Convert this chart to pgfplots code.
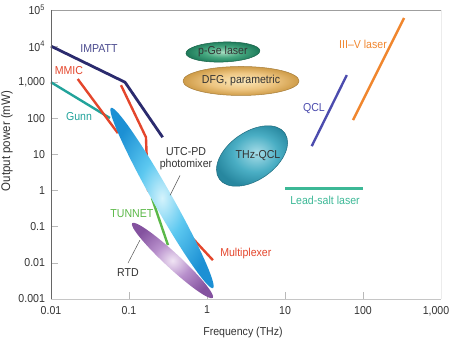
\documentclass[border=0pt]{standalone}
\usepackage{pgfplots}
\pgfplotsset{compat=1.18}
\usepackage{fontspec}
\setmainfont{Liberation Sans}[FakeStretch=0.92]
\usetikzlibrary{shapes.geometric}

% line and label colours
\definecolor{impatt}{HTML}{2B2B6E}
\definecolor{impattTxt}{HTML}{4A4A8E}
\definecolor{mmic}{HTML}{E4462C}
\definecolor{gunn}{HTML}{22A39B}
\definecolor{tunnet}{HTML}{5BB848}
\definecolor{qcl}{HTML}{4C4CAE}
\definecolor{threefive}{HTML}{F0862E}
\definecolor{leadsalt}{HTML}{3CB896}
\definecolor{leader}{HTML}{555555}
\definecolor{txt}{HTML}{333333}

% region fills
\definecolor{utcA}{HTML}{D4F3FC}
\definecolor{utcB}{HTML}{5CC8F0}
\definecolor{utcC}{HTML}{1C90D4}
\definecolor{rtdA}{HTML}{F0E4F4}
\definecolor{rtdB}{HTML}{B890CC}
\definecolor{rtdC}{HTML}{84529F}
\definecolor{qclA}{HTML}{A8DDE8}
\definecolor{qclB}{HTML}{4AAEC4}
\definecolor{qclC}{HTML}{27879F}
\definecolor{pgeA}{HTML}{A6DCC0}
\definecolor{pgeB}{HTML}{44A67E}
\definecolor{pgeC}{HTML}{1E7A5A}
\definecolor{dfgA}{HTML}{FBE8BA}
\definecolor{dfgB}{HTML}{EEC682}
\definecolor{dfgC}{HTML}{CF9C48}

\pgfdeclareradialshading{utcpd}{\pgfpoint{0bp}{0bp}}{color(0bp)=(utcA); color(11bp)=(utcB); color(25bp)=(utcC); color(50bp)=(utcC)}
\pgfdeclareradialshading{rtd}{\pgfpoint{0bp}{0bp}}{color(0bp)=(rtdA); color(11bp)=(rtdB); color(25bp)=(rtdC); color(50bp)=(rtdC)}
\pgfdeclareradialshading{thzqcl}{\pgfpoint{3bp}{2bp}}{color(0bp)=(qclA); color(14bp)=(qclB); color(25bp)=(qclC); color(50bp)=(qclC)}
\pgfdeclareradialshading{pge}{\pgfpoint{0bp}{0bp}}{color(0bp)=(pgeA); color(13bp)=(pgeB); color(25bp)=(pgeC); color(50bp)=(pgeC)}
\pgfdeclareradialshading{dfg}{\pgfpoint{0bp}{0bp}}{color(0bp)=(dfgA); color(14bp)=(dfgB); color(25bp)=(dfgC); color(50bp)=(dfgC)}

\tikzset{
  region/.style={ellipse, inner sep=0pt, shade},
}

\begin{document}
\fontsize{11.5}{13.5}\selectfont%
\begin{tikzpicture}
\begin{axis}[
  scale only axis,
  width=390pt, height=289pt,
  xmode=log, ymode=log,
  xmin=0.01, xmax=1000,
  ymin=0.001, ymax=100000,
  xtick={0.01,0.1,1,10,100,1000},
  xticklabels={0.01,0.1,1,10,100,{\hspace*{-10pt}1,000}},
  ytick={0.001,0.01,0.1,1,10,100,1000,10000,100000},
  yticklabels={0.001,0.01,0.1,1,10,100,{1,000},10\textsuperscript{4},10\textsuperscript{5}},
  xminorticks=false, yminorticks=false,
  xtick pos=bottom, ytick pos=left,
  tick align=inside,
  major tick length=7pt,
  tick style={gray!55, line width=0.6pt},
  axis line style={draw=none},
  x tick label style={yshift=-3pt, text=txt},
  y tick label style={xshift=-2pt, text=txt},
  clip=false,
]
\coordinate (O) at (rel axis cs:0,0);
\coordinate (T) at (rel axis cs:1,1);

% electronic sources
\addplot[gunn, line width=2.4pt] coordinates {(0.01,1000) (0.057,102)};
\addplot[mmic, line width=2.4pt] coordinates {(0.022,1230) (0.072,39)};
\addplot[mmic, line width=2.4pt, line join=round] coordinates {(0.079,830) (0.165,30) (0.175,1.03) (1.19,0.0119)};
\addplot[impatt, line width=2.8pt, line join=round] coordinates {(0.01,10000) (0.089,1000) (0.27,30)};
\addplot[tunnet, line width=2.4pt] coordinates {(0.197,0.62) (0.316,0.031)};

% photonic sources
\addplot[qcl, line width=2.4pt] coordinates {(22,17) (62,1580)};
\addplot[threefive, line width=2.4pt] coordinates {(74.5,90) (336,60000)};
\addplot[leadsalt, line width=3pt] coordinates {(10,1.17) (100,1.17)};

% source regions
\node[region, shading=rtd, minimum width=110pt, minimum height=15pt, rotate=-42.8] at (axis cs:0.361,0.01164) {};
\node[region, shading=utcpd, minimum width=207pt, minimum height=19pt, rotate=-60.5] at (axis cs:0.265,0.625) {};
\node[region, shading=thzqcl, draw=qclC!80!black, line width=0.5pt, minimum width=80pt, minimum height=48pt, rotate=35] at (axis cs:3.78,9.08) {};
\node[region, shading=pge, draw=pgeC!80!black, line width=0.5pt, minimum width=74pt, minimum height=20pt, rotate=2] at (axis cs:1.6,6870) {};
\node[region, shading=dfg, draw=dfgC!80!black, line width=0.5pt, minimum width=116pt, minimum height=29pt] at (axis cs:2.73,1084) {};

% leader lines
\draw[leader, line width=0.5pt] (axis cs:0.451,2.64) -- (axis cs:0.336,0.74);
\draw[leader, line width=0.5pt] (axis cs:0.097,0.00984) -- (axis cs:0.138,0.0425);

% labels
\node[text=impattTxt] at (axis cs:0.0412,8400) {IMPATT};
\node[text=mmic] at (axis cs:0.017,2080) {MMIC};
\node[text=gunn] at (axis cs:0.0229,112) {Gunn};
\node[text=txt, align=center, inner sep=0pt] at (axis cs:0.538,7.76) {UTC-PD\\[-1pt]photomixer};
\node[text=tunnet] at (axis cs:0.109,0.236) {TUNNET};
\node[text=txt] at (axis cs:0.097,0.00556) {RTD};
\node[text=mmic, anchor=west, inner sep=0pt] at (axis cs:1.47,0.0186) {Multiplexer};
\node[text=txt] at (axis cs:4.51,9.38) {THz-QCL};
\node[text=txt] at (axis cs:1.6,6870) {p-Ge laser};
\node[text=txt] at (axis cs:2.73,1084) {DFG, parametric};
\node[text=leadsalt] at (axis cs:32.6,0.538) {Lead-salt laser};
\node[text=qcl] at (axis cs:23.5,186) {QCL};
\node[text=threefive] at (axis cs:100,11500) {III–V laser};
\end{axis}

% frame
\draw[gray!45, line width=0.6pt] (O) -- (O -| T);
\draw[gray!15, line width=0.6pt] (O -| T) -- (T);
\draw[gray!75, line width=0.6pt] (T) -- (T -| O);
\draw[gray!80!black, line width=0.7pt] (T -| O) -- (O);

% axis titles
\node[rotate=90, text=txt, font=\fontsize{12.5}{14}\selectfont] at ([shift={(-44pt,158pt)}]O) {Output power (mW)};
\node[text=txt] at ([shift={(192pt,-34pt)}]O) {Frequency (THz)};

\pgfresetboundingbox
\path[use as bounding box] ([shift={(-51pt,-38pt)}]O) rectangle ([shift={(10pt,10pt)}]T);
\end{tikzpicture}
\end{document}
